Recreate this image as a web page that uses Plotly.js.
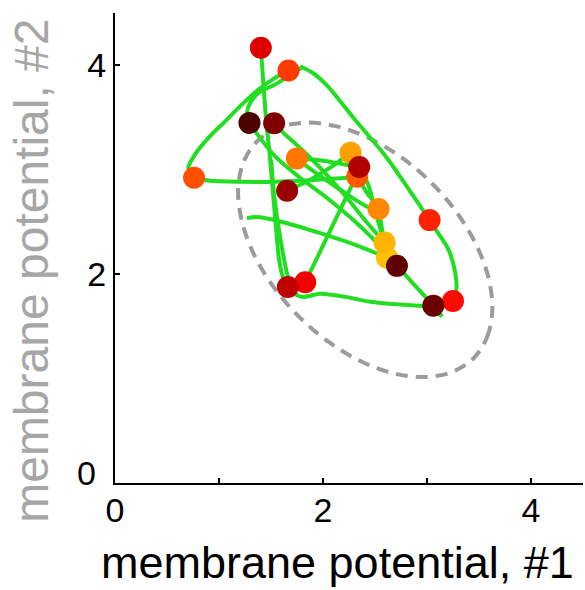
<!DOCTYPE html>
<html>
<head>
<meta charset="utf-8">
<script src="https://cdn.plot.ly/plotly-3.0.1.min.js"></script>
<style>html,body{margin:0;padding:0;background:#fff;}#chart{width:585px;height:590px;}</style>
</head>
<body>
<div id="chart"></div>
<script>
// Event points (membrane potential #1, #2) and their colours
const pointX = [1.293, 1.530, 1.668, 1.402, 1.749, 2.329, 2.265, 2.348, 0.760, 1.655, 2.534, 3.025, 2.615, 2.592, 2.711, 1.829, 1.662, 3.250, 3.061];
const pointY = [3.448, 3.444, 3.949, 4.167, 3.108, 2.932, 3.163, 3.025, 2.923, 2.798, 2.623, 2.517, 2.158, 2.302, 2.079, 1.922, 1.877, 1.743, 1.698];
const pointColor = ['#4d0000', '#800000', '#ff3a00', '#dd0000', '#ff7700', '#ff5a00', '#ffa000', '#b00000', '#ff5000', '#990000', '#ff8800', '#ff2200', '#ffc000', '#ffb400', '#600000', '#f50000', '#c00000', '#ff0a00', '#6a0000'];

// Trajectory (green), pieces separated by null
const trajX = [
  1.402, 1.424, 1.453, 1.492, 1.521, 1.550, 1.578, 1.617, 1.662, null,
  1.501, 1.530, 1.569, 1.617, 1.665, 1.723, 1.800, 1.973, 2.214, 2.454, 2.743, 2.964, 3.061, null,
  1.829, 1.925, 2.040, 2.165, 2.281, 2.329, null,
  0.760, 0.914, 1.203, 1.540, 1.877, 2.166, 2.329, null,
  0.760, 0.705, 0.770, 0.898, 1.059, 1.219, 1.379, 1.540, 1.668, null,
  1.809, 1.704, 1.540, 1.379, 1.299, 1.270, 1.293, null,
  1.781, 1.896, 2.040, 2.294, 2.615, 2.839, 3.025, 3.099, 3.208, 3.272, 3.282, 3.250, null,
  1.293, 1.348, 1.540, 1.764, 2.021, 2.310, 2.519, 2.615, null,
  1.530, 1.604, 1.797, 2.021, 2.230, 2.416, 2.592, null,
  1.749, 1.845, 2.166, 2.423, 2.534, null,
  1.749, 1.973, 2.214, 2.348, null,
  1.655, 1.877, 2.069, 2.265, null,
  1.268, 1.364, 1.588, 1.973, 2.310, 2.615, null,
  2.329, 2.416, 2.534, 2.560, 2.592, 2.615, 2.711, 2.887, 3.061, 3.145, null,
  2.348, 2.435, 2.512, 2.592
];
const trajY = [
  4.167, 3.863, 3.479, 3.095, 2.760, 2.424, 2.136, 1.964, 1.877, null,
  3.095, 2.760, 2.472, 2.184, 1.964, 1.820, 1.782, 1.811, 1.782, 1.736, 1.709, 1.695, 1.698, null,
  1.925, 2.117, 2.357, 2.616, 2.856, 2.932, null,
  2.923, 2.894, 2.884, 2.884, 2.899, 2.918, 2.932, null,
  2.923, 3.016, 3.146, 3.304, 3.463, 3.623, 3.767, 3.879, 3.949, null,
  3.988, 3.920, 3.815, 3.735, 3.639, 3.546, 3.448, null,
  3.988, 3.930, 3.805, 3.495, 3.112, 2.791, 2.517, 2.405, 2.232, 2.009, 1.848, 1.746, null,
  3.448, 3.367, 3.127, 2.935, 2.743, 2.501, 2.296, 2.158, null,
  3.444, 3.367, 3.191, 2.968, 2.731, 2.501, 2.302, null,
  3.108, 3.031, 2.808, 2.647, 2.623, null,
  3.108, 3.091, 3.048, 3.025, null,
  2.798, 2.904, 3.019, 3.163, null,
  2.536, 2.546, 2.504, 2.392, 2.280, 2.158, null,
  2.932, 2.788, 2.623, 2.472, 2.302, 2.158, 2.079, 1.887, 1.698, 1.592, null,
  3.025, 2.855, 2.568, 2.302
];

// Dashed ellipse, points read around its outline
const ellX = [3.447, 3.577, 3.628, 3.595, 3.481, 3.294, 3.046, 2.755, 2.439, 2.122, 1.824, 1.566, 1.365, 1.235, 1.184, 1.218, 1.331, 1.519, 1.766, 2.058, 2.373, 2.690, 2.988, 3.246, 3.447];
const ellY = [1.194, 1.395, 1.652, 1.949, 2.265, 2.579, 2.870, 3.117, 3.303, 3.417, 3.450, 3.400, 3.270, 3.070, 2.812, 2.515, 2.199, 1.885, 1.595, 1.348, 1.161, 1.047, 1.015, 1.065, 1.194];

const xTickVals = [0, 1, 2, 3, 4];
const xTickText = ['0', '', '2', '', '4'];
const yTickVals = [0, 2, 4];
const yTickText = ['', '2', '4'];
const yZeroLabel = '0';
const xTitle = 'membrane potential, #1';
const yTitle = 'membrane potential, #2';

const font = 'Liberation Sans, Arial, Helvetica, sans-serif';

const traces = [
  {x: ellX, y: ellY, mode: 'lines', type: 'scatter', hoverinfo: 'skip',
   line: {color: '#9b9b9b', width: 4, dash: '12px,8px', shape: 'spline', smoothing: 1}},
  {x: trajX, y: trajY, mode: 'lines', type: 'scatter', connectgaps: false, hoverinfo: 'skip',
   line: {color: '#22de22', width: 4, shape: 'spline', smoothing: 0.8}},
  {x: pointX, y: pointY, mode: 'markers', type: 'scatter',
   marker: {size: 22, color: pointColor, line: {width: 0}}}
];

const layout = {
  width: 585, height: 590,
  margin: {l: 115, r: 2, t: 13, b: 107, pad: 0},
  paper_bgcolor: '#ffffff', plot_bgcolor: '#ffffff',
  showlegend: false,
  font: {family: font, color: '#000'},
  xaxis: {range: [0, 4.5], showgrid: false, zeroline: false, showline: true, linecolor: '#000', linewidth: 2,
          ticks: 'inside', ticklen: 5, tickwidth: 1.5, tickcolor: '#000', ticklabelstandoff: -4,
          tickvals: xTickVals, ticktext: xTickText, tickfont: {size: 34, family: font, color: '#000'},
          fixedrange: true},
  yaxis: {range: [0, 4.5], showgrid: false, zeroline: false, showline: true, linecolor: '#000', linewidth: 2,
          ticks: 'inside', ticklen: 5, tickwidth: 1.5, tickcolor: '#000',
          tickvals: yTickVals, ticktext: yTickText, tickfont: {size: 34, family: font, color: '#000'},
          fixedrange: true},
  annotations: [
    {text: yZeroLabel, xref: 'paper', yref: 'paper', x: -0.036, y: 0.021, xanchor: 'right', yanchor: 'middle',
     showarrow: false, font: {size: 34, family: font, color: '#000'}},
    {text: xTitle, xref: 'paper', yref: 'paper', x: 0.4754, y: -0.170, xanchor: 'center', yanchor: 'middle',
     showarrow: false, font: {size: 45, family: font, color: '#000'}},
    {text: yTitle, xref: 'paper', yref: 'paper', x: -0.18, y: 0.451, xanchor: 'center', yanchor: 'middle',
     textangle: -90, showarrow: false, font: {size: 48, family: font, color: '#a6a6a6'}}
  ]
};

Plotly.newPlot('chart', traces, layout, {displayModeBar: false, staticPlot: true});
</script>
</body>
</html>
